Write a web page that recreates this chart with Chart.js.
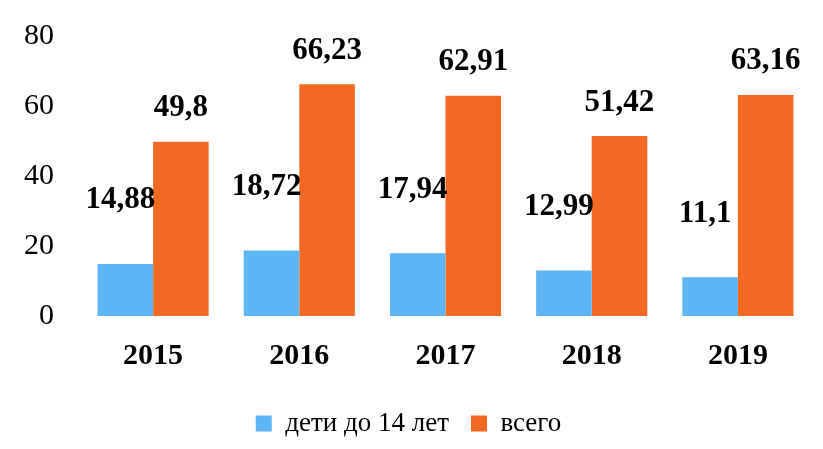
<!DOCTYPE html>
<html><head><meta charset="utf-8">
<script src="https://cdn.jsdelivr.net/npm/chart.js@4"></script>
<style>html,body{margin:0;background:#fff}#w{width:823px;height:449px}</style>
</head><body><div id="w"><canvas id="c"></canvas></div>
<script>
const categories = ['2015','2016','2017','2018','2019'];
const children = [14.88, 18.72, 17.94, 12.99, 11.1];
const total = [49.8, 66.23, 62.91, 51.42, 63.16];
const seriesNames = ['дети до 14 лет', 'всего'];
const yTicks = [0,20,40,60,80];

const labelPlugin = {
  id: 'vals',
  afterDatasetsDraw(chart) {
    const ctx = chart.ctx;
    ctx.save();
    ctx.font = 'bold 31px "Liberation Serif"';
    ctx.fillStyle = '#000';
    ctx.textAlign = 'center';
    ctx.textBaseline = 'bottom';
    chart.data.datasets.forEach((ds, i) => {
      const meta = chart.getDatasetMeta(i);
      meta.data.forEach((bar, j) => {
        const off = i === 0 ? 48 : 18;
        const dx = i === 0 ? -5 : 0;
        ctx.fillText(String(ds.data[j]).replace('.', ','), bar.x + dx, bar.y - off);
      });
    });
    ctx.restore();
  }
};

new Chart(document.getElementById('c'), {
  type: 'bar',
  data: {
    labels: categories,
    datasets: [
      { label: seriesNames[0], data: children, backgroundColor: '#5EB5F4' },
      { label: seriesNames[1], data: total, backgroundColor: '#F26A22' }
    ]
  },
  options: {
    responsive: true, maintainAspectRatio: false, animation: false,
    layout: { padding: { top: 2, right: 12, left: 6, bottom: 2 } },
    datasets: { bar: { categoryPercentage: 0.76, barPercentage: 1 } },
    plugins: {
      legend: {
        position: 'bottom',
        labels: { font: { family: 'Liberation Serif', size: 27 }, color: '#000', boxWidth: 16, boxHeight: 16, padding: 22 }
      },
      tooltip: { enabled: false }
    },
    scales: {
      x: {
        grid: { display: false }, border: { display: false },
        ticks: { font: { family: 'Liberation Serif', size: 30, weight: 'bold' }, color: '#000', padding: 14 }
      },
      y: {
        min: 0, max: 80,
        afterBuildTicks(s) { s.ticks = yTicks.map(v => ({ value: v })); },
        grid: { display: false }, border: { display: false },
        ticks: { font: { family: 'Liberation Serif', size: 30 }, color: '#000', padding: 18 }
      }
    }
  },
  plugins: [labelPlugin]
});
</script></body></html>
